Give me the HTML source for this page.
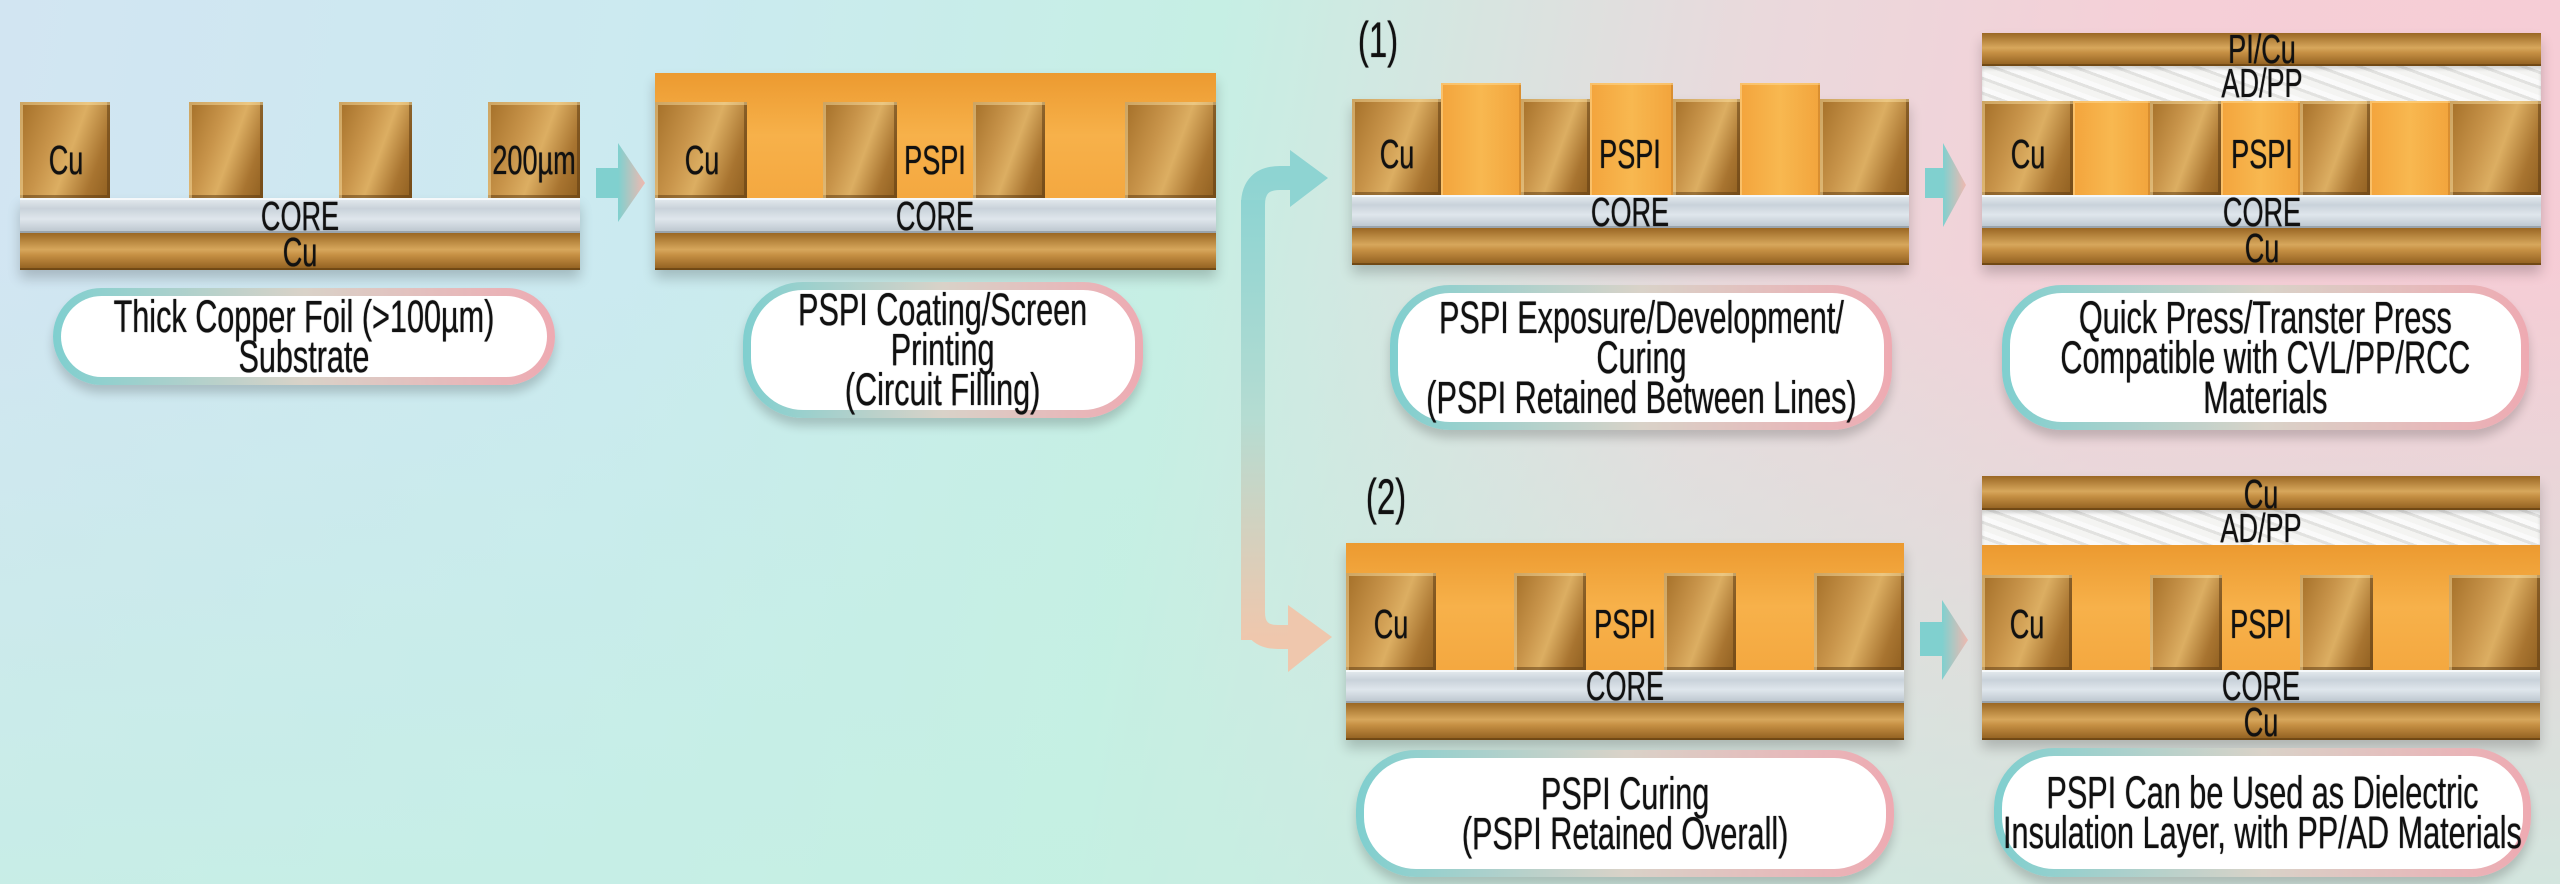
<!DOCTYPE html>
<html><head><meta charset="utf-8">
<style>
*{margin:0;padding:0;box-sizing:border-box}
body{width:2560px;height:884px;overflow:hidden;position:relative;font-family:"Liberation Sans",Arial,sans-serif;
background:linear-gradient(180deg,rgba(200,238,228,0) 30%,rgba(196,240,226,.7) 100%),linear-gradient(100deg,#d2e5f2 0%,#cbeaf0 25%,#c6efe4 45%,#ead9dc 65%,#f5cfd7 80%,#f6ccd5 100%);}
.a{position:absolute}
.cu{position:absolute;background:linear-gradient(110deg,#a46f28 0%,#c8944a 35%,#dcae62 55%,#a87430 80%,#8f5f20 100%);box-shadow:inset 3px 3px 0 rgba(255,230,170,.45),inset -3px -3px 0 rgba(90,55,15,.5)}
.cuh{position:absolute;background:linear-gradient(180deg,#9a6724 0%,#d7a75c 45%,#c58f43 60%,#8e5d1e 100%);box-shadow:inset 0 -2px 0 rgba(80,50,10,.5)}
.ps{position:absolute;background:linear-gradient(90deg,#f3a43c,#f8b850 50%,#f2a43c);box-shadow:inset 2px 2px 0 rgba(255,220,150,.5),inset -2px 0 0 rgba(180,110,30,.4)}
.psh{position:absolute;background:linear-gradient(180deg,#ec9a30,#f7b14a 50%,#f4a840)}
.core{position:absolute;background:linear-gradient(180deg,#e6ecf0 0%,#c9d2da 30%,#dfe6ec 60%,#b9c3cc 100%);box-shadow:inset 0 2px 0 #f5f8fa,inset 0 -2px 0 #9aa4ad}
.adpp{position:absolute;background:repeating-linear-gradient(20deg,#f4f4f2 0 6px,#e2e2e0 6px 9px,#fafafa 9px 14px);box-shadow:inset 0 3px 3px rgba(0,0,0,.15)}
.t{position:absolute;width:400px;margin-left:-200px;text-align:center;font-size:41px;line-height:38px;color:#111;transform:scaleX(.66);white-space:nowrap;text-shadow:0 0 1px #111}
.lab{position:absolute;border-radius:60px;background:linear-gradient(90deg,#7fcfcf,#d9d2c8 50%,#eeaab2);padding:8px;box-shadow:0 8px 10px rgba(0,0,0,.18)}
.lab div{width:100%;height:100%;background:#fff;border-radius:52px;display:flex;align-items:center;justify-content:center;text-align:center}
.lab span{display:block;font-size:45px;line-height:40px;color:#111;transform:scaleX(.68);white-space:nowrap;text-shadow:0 0 1px #111}
.sh{position:absolute;box-shadow:0 8px 12px rgba(0,0,0,.2)}
</style></head><body>

<svg class="a" style="left:0;top:0" width="2560" height="884">
<defs>
<linearGradient id="g" x1="0" y1="0" x2="0" y2="1"><stop offset="0" stop-color="#8ed4d2"/><stop offset="0.5" stop-color="#b5dcd2"/><stop offset="1" stop-color="#efc7ad"/></linearGradient>
<linearGradient id="sa" x1="0" y1="0" x2="1" y2="0"><stop offset="0" stop-color="#7fd0cf"/><stop offset="1" stop-color="#f0b9b0"/></linearGradient>
</defs>
<path d="M1253 640 L1253 205 Q1253 178 1280 178 L1300 178" fill="none" stroke="url(#g)" stroke-width="24"/>
<path d="M1253 200 L1253 612 Q1253 637 1278 637 L1295 637" fill="none" stroke="url(#g)" stroke-width="24"/>
<polygon points="1290,150 1328,178 1290,207" fill="#8ed4d2"/>
<polygon points="1288,605 1332,637 1288,672" fill="#efc7ad"/>
<g><rect x="596" y="168" width="24" height="30" fill="#80d0cf"/><polygon points="618,143 645,183 618,222" fill="url(#sa)"/></g>
<g><rect x="1925" y="168" width="20" height="30" fill="#80d0cf"/><polygon points="1943,143 1966,185 1943,227" fill="url(#sa)"/></g>
<g><rect x="1920" y="622" width="24" height="34" fill="#80d0cf"/><polygon points="1942,600 1968,640 1942,680" fill="url(#sa)"/></g>
</svg>

<!-- Panel 1 -->
<div class="sh" style="left:20px;top:198px;width:560px;height:72px"></div>
<div class="cu" style="left:20px;top:102px;width:90px;height:96px"></div>
<div class="cu" style="left:189px;top:102px;width:74px;height:96px"></div>
<div class="cu" style="left:339px;top:102px;width:73px;height:96px"></div>
<div class="cu" style="left:488px;top:102px;width:92px;height:96px"></div>
<div class="core" style="left:20px;top:198px;width:560px;height:35px"></div>
<div class="cuh" style="left:20px;top:233px;width:560px;height:37px"></div>
<div class="t" style="left:66px;top:141px">Cu</div>
<div class="t" style="left:534px;top:141px">200µm</div>
<div class="t" style="left:300px;top:197px">CORE</div>
<div class="t" style="left:300px;top:233px">Cu</div>

<!-- Panel 2 -->
<div class="sh" style="left:655px;top:73px;width:561px;height:197px"></div>
<div class="psh" style="left:655px;top:73px;width:561px;height:125px"></div>
<div class="cu" style="left:655px;top:102px;width:92px;height:96px"></div>
<div class="cu" style="left:823px;top:102px;width:74px;height:96px"></div>
<div class="cu" style="left:973px;top:102px;width:72px;height:96px"></div>
<div class="cu" style="left:1125px;top:102px;width:91px;height:96px"></div>
<div class="core" style="left:655px;top:198px;width:561px;height:35px"></div>
<div class="cuh" style="left:655px;top:233px;width:561px;height:37px"></div>
<div class="t" style="left:702px;top:141px">Cu</div>
<div class="t" style="left:935px;top:141px">PSPI</div>
<div class="t" style="left:935px;top:197px">CORE</div>

<!-- Panel 3 -->
<div class="sh" style="left:1352px;top:99px;width:557px;height:166px"></div>
<div class="cu" style="left:1352px;top:99px;width:89px;height:96px"></div>
<div class="ps" style="left:1441px;top:83px;width:80px;height:112px"></div>
<div class="cu" style="left:1521px;top:99px;width:69px;height:96px"></div>
<div class="ps" style="left:1590px;top:83px;width:83px;height:112px"></div>
<div class="cu" style="left:1673px;top:99px;width:67px;height:96px"></div>
<div class="ps" style="left:1740px;top:83px;width:80px;height:112px"></div>
<div class="cu" style="left:1820px;top:99px;width:89px;height:96px"></div>
<div class="core" style="left:1352px;top:195px;width:557px;height:33px"></div>
<div class="cuh" style="left:1352px;top:228px;width:557px;height:37px"></div>
<div class="t" style="left:1397px;top:135px">Cu</div>
<div class="t" style="left:1630px;top:135px">PSPI</div>
<div class="t" style="left:1630px;top:193px">CORE</div>
<div class="t" style="left:1378px;top:16px;font-size:50px;line-height:48px">(1)</div>

<!-- Panel 4 -->
<div class="sh" style="left:1982px;top:33px;width:559px;height:232px"></div>
<div class="cuh" style="left:1982px;top:33px;width:559px;height:33px"></div>
<div class="adpp" style="left:1982px;top:66px;width:559px;height:35px"></div>
<div class="cu" style="left:1982px;top:101px;width:91px;height:94px"></div>
<div class="ps" style="left:2073px;top:101px;width:77px;height:94px"></div>
<div class="cu" style="left:2150px;top:101px;width:71px;height:94px"></div>
<div class="ps" style="left:2221px;top:101px;width:79px;height:94px"></div>
<div class="cu" style="left:2300px;top:101px;width:70px;height:94px"></div>
<div class="ps" style="left:2370px;top:101px;width:80px;height:94px"></div>
<div class="cu" style="left:2450px;top:101px;width:91px;height:94px"></div>
<div class="core" style="left:1982px;top:195px;width:559px;height:33px"></div>
<div class="cuh" style="left:1982px;top:228px;width:559px;height:37px"></div>
<div class="t" style="left:2262px;top:30px">PI/Cu</div>
<div class="t" style="left:2262px;top:64px">AD/PP</div>
<div class="t" style="left:2028px;top:135px">Cu</div>
<div class="t" style="left:2262px;top:135px">PSPI</div>
<div class="t" style="left:2262px;top:193px">CORE</div>
<div class="t" style="left:2262px;top:229px">Cu</div>

<!-- Panel 5 -->
<div class="sh" style="left:1346px;top:543px;width:558px;height:197px"></div>
<div class="psh" style="left:1346px;top:543px;width:558px;height:127px"></div>
<div class="cu" style="left:1346px;top:573px;width:90px;height:97px"></div>
<div class="cu" style="left:1514px;top:573px;width:72px;height:97px"></div>
<div class="cu" style="left:1664px;top:573px;width:72px;height:97px"></div>
<div class="cu" style="left:1814px;top:573px;width:90px;height:97px"></div>
<div class="core" style="left:1346px;top:670px;width:558px;height:33px"></div>
<div class="cuh" style="left:1346px;top:703px;width:558px;height:37px"></div>
<div class="t" style="left:1391px;top:605px">Cu</div>
<div class="t" style="left:1625px;top:605px">PSPI</div>
<div class="t" style="left:1625px;top:667px">CORE</div>
<div class="t" style="left:1386px;top:473px;font-size:50px;line-height:48px">(2)</div>

<!-- Panel 6 -->
<div class="sh" style="left:1982px;top:476px;width:558px;height:264px"></div>
<div class="cuh" style="left:1982px;top:476px;width:558px;height:34px"></div>
<div class="adpp" style="left:1982px;top:510px;width:558px;height:35px"></div>
<div class="psh" style="left:1982px;top:545px;width:558px;height:125px"></div>
<div class="cu" style="left:1982px;top:575px;width:90px;height:95px"></div>
<div class="cu" style="left:2150px;top:575px;width:72px;height:95px"></div>
<div class="cu" style="left:2300px;top:575px;width:73px;height:95px"></div>
<div class="cu" style="left:2449px;top:575px;width:91px;height:95px"></div>
<div class="core" style="left:1982px;top:670px;width:558px;height:33px"></div>
<div class="cuh" style="left:1982px;top:703px;width:558px;height:37px"></div>
<div class="t" style="left:2261px;top:475px">Cu</div>
<div class="t" style="left:2261px;top:509px">AD/PP</div>
<div class="t" style="left:2027px;top:605px">Cu</div>
<div class="t" style="left:2261px;top:605px">PSPI</div>
<div class="t" style="left:2261px;top:667px">CORE</div>
<div class="t" style="left:2261px;top:703px">Cu</div>

<!-- Labels -->
<div class="lab" style="left:53px;top:288px;width:502px;height:97px"><div><span>Thick Copper Foil (&gt;100µm)<br>Substrate</span></div></div>
<div class="lab" style="left:743px;top:282px;width:400px;height:136px"><div><span>PSPI Coating/Screen<br>Printing<br>(Circuit Filling)</span></div></div>
<div class="lab" style="left:1390px;top:285px;width:502px;height:145px"><div><span>PSPI Exposure/Development/<br>Curing<br>(PSPI Retained Between Lines)</span></div></div>
<div class="lab" style="left:2002px;top:285px;width:527px;height:145px"><div><span>Quick Press/Transter Press<br>Compatible with CVL/PP/RCC<br>Materials</span></div></div>
<div class="lab" style="left:1356px;top:750px;width:538px;height:127px"><div><span>PSPI Curing<br>(PSPI Retained Overall)</span></div></div>
<div class="lab" style="left:1994px;top:748px;width:537px;height:129px"><div><span>PSPI Can be Used as Dielectric<br>Insulation Layer, with PP/AD Materials</span></div></div>

</body></html>
